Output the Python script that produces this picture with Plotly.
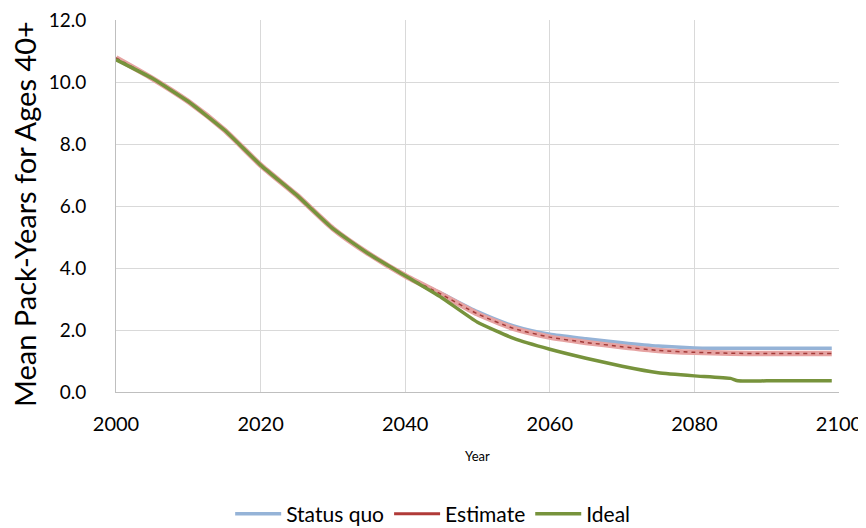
import plotly.graph_objects as go

years = [2000, 2005, 2010, 2015, 2020, 2025, 2030, 2035, 2040, 2045, 2050, 2055,
         2060, 2065, 2070, 2075, 2080, 2085, 2090, 2095, 2099]
status_quo = [10.75, 10.12, 9.37, 8.45, 7.32, 6.35, 5.27, 4.45, 3.75, 3.18, 2.59, 2.13,
              1.86, 1.72, 1.59, 1.48, 1.42, 1.41, 1.41, 1.41, 1.41]
estimate = [10.78, 10.12, 9.37, 8.45, 7.32, 6.35, 5.27, 4.45, 3.75, 3.15, 2.52, 2.05,
            1.77, 1.60, 1.46, 1.34, 1.28, 1.25, 1.24, 1.24, 1.24]
ideal_years = [2000, 2005, 2010, 2015, 2020, 2025, 2030, 2035, 2040, 2045, 2050, 2055,
               2060, 2065, 2070, 2075, 2080, 2085, 2086, 2090, 2095, 2099]
ideal = [10.72, 10.12, 9.37, 8.45, 7.32, 6.35, 5.27, 4.45, 3.75, 3.05, 2.25, 1.73,
         1.38, 1.09, 0.83, 0.62, 0.52, 0.44, 0.36, 0.36, 0.36, 0.36]

x_ticks = [2000, 2020, 2040, 2060, 2080, 2100]
y_ticks = [0, 2, 4, 6, 8, 10, 12]

FONT = "Lato"
fig = go.Figure()
fig.add_trace(go.Scatter(x=years, y=status_quo, mode="lines", name="Status quo",
                         line=dict(color="#95B3D7", width=3.5, shape="spline", smoothing=0.6)))
fig.add_trace(go.Scatter(x=years, y=estimate, mode="lines", name="Estimate band",
                         showlegend=False, hoverinfo="skip",
                         line=dict(color="#E6A3A2", width=5.5, shape="spline", smoothing=0.6)))
fig.add_trace(go.Scatter(x=years, y=estimate, mode="lines", name="Estimate",
                         showlegend=False,
                         line=dict(color="#A33A38", width=1.5, dash="4px,4px", shape="spline", smoothing=0.6)))
fig.add_trace(go.Scatter(x=[None], y=[None], mode="lines", name="Estimate",
                         line=dict(color="#B03A38", width=3)))
fig.add_trace(go.Scatter(x=ideal_years, y=ideal, mode="lines", name="Ideal",
                         line=dict(color="#77933C", width=3.5, shape="spline", smoothing=0.4)))

# the page body adds an 8px offset, so margins are set 8px smaller on top/left
fig.update_layout(
    width=866, height=528,
    margin=dict(l=108, r=35, t=12, b=144, autoexpand=False),
    paper_bgcolor="white", plot_bgcolor="white",
    font=dict(family=FONT, color="#000000"),
    showlegend=True,
    legend=dict(orientation="h", x=0.438, xanchor="center", y=-0.328, yanchor="middle",
                font=dict(size=21, family=FONT), traceorder="normal", itemwidth=46),
    xaxis=dict(range=[2000, 2100], tickvals=x_ticks, ticktext=[str(v) for v in x_ticks],
               showgrid=True, gridcolor="#D9D9D9", gridwidth=1, automargin=False,
               showline=True, linecolor="#BFBFBF", linewidth=1, zeroline=False,
               tickfont=dict(size=20, family=FONT), ticks="", ticklabelstandoff=14,
               ticklabeloverflow="allow"),
    yaxis=dict(range=[0, 12], tickvals=y_ticks, ticktext=[f"{v:.1f}" for v in y_ticks],
               showgrid=True, gridcolor="#D9D9D9", gridwidth=1, automargin=False,
               showline=True, linecolor="#BFBFBF", linewidth=1, zeroline=False,
               tickfont=dict(size=19, family=FONT), ticks="", ticklabelstandoff=25,
               ticklabeloverflow="allow"),
    annotations=[
        dict(text="Mean Pack-Years for Ages 40+", textangle=-90, xref="paper", yref="paper",
             x=0, y=0.5, xanchor="center", yanchor="middle", xshift=-92, yshift=-8,
             showarrow=False, font=dict(size=29, family=FONT, color="#000000")),
        dict(text="Year", xref="paper", yref="paper", x=0.5, y=0, xanchor="center",
             yanchor="middle", yshift=-64, showarrow=False,
             font=dict(size=13, family=FONT, color="#000000")),
    ],
)
fig.write_html("out.html")
